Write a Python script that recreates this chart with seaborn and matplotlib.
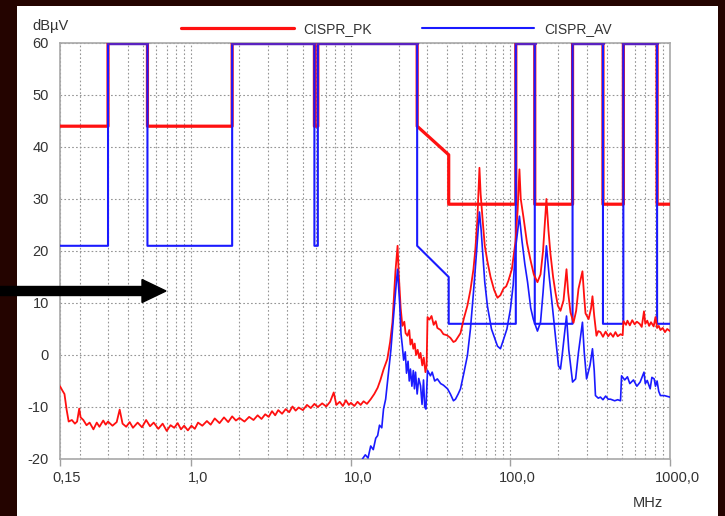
import numpy as np
import pandas as pd
import matplotlib
matplotlib.use("Agg")
import matplotlib.pyplot as plt
import matplotlib.transforms as mtransforms
from matplotlib.patches import Rectangle, FancyArrow
from matplotlib.ticker import FixedLocator, LogLocator, NullFormatter
import seaborn as sns

# limit lines (CISPR 25), one entry per segment: start/end frequency and level
seg_start = [0.15, 0.30, 0.53, 1.8, 5.9, 6.2, 26, 41, 108, 142, 245, 380, 510, 830]
seg_end = [0.30, 0.53, 1.8, 5.9, 6.2, 26, 41, 108, 142, 245, 380, 510, 830, 1000]
pk_lim_start = [44, 60, 44, 60, 44, 60, 44, 29, 60, 29, 60, 29, 60, 29]
pk_lim_end = [44, 60, 44, 60, 44, 60, 38.5, 29, 60, 29, 60, 29, 60, 29]
av_lim_start = [21, 60, 21, 60, 21, 60, 21, 6, 60, 6, 60, 6, 60, 6]
av_lim_end = [21, 60, 21, 60, 21, 60, 15, 6, 60, 6, 60, 6, 60, 6]

# measured peak trace (MHz, dBuV)
pk_freq = [0.150, 0.155, 0.160, 0.165, 0.170, 0.178, 0.186, 0.192, 0.198, 0.202,
           0.210, 0.220, 0.230, 0.243, 0.255, 0.265, 0.28, 0.29, 0.30, 0.32,
           0.34, 0.355, 0.37, 0.39, 0.41, 0.43, 0.46, 0.49, 0.52, 0.55,
           0.58, 0.62, 0.66, 0.70, 0.74, 0.78, 0.82, 0.86, 0.90, 0.95,
           1.0, 1.05, 1.1, 1.17, 1.25, 1.32, 1.4, 1.5, 1.6, 1.7,
           1.8, 1.9, 2.0, 2.15, 2.3, 2.45, 2.6, 2.75, 2.9, 3.05,
           3.2, 3.35, 3.5, 3.7, 3.9, 4.1, 4.3, 4.5, 4.7, 5.0,
           5.3, 5.6, 5.9, 6.2, 6.6, 7.0, 7.4, 7.8, 8.1, 8.5,
           8.9, 9.3, 9.7, 10.0, 10.5, 11.0, 11.5, 12.0, 12.6, 13.3,
           14.0, 14.7, 15.3, 16.0, 16.9, 17.6, 18.2, 19.0, 19.6, 19.9,
           20.5, 21.0, 21.6, 22.0, 22.6, 23.2, 23.6, 24.1, 24.6, 25.1,
           25.6, 26.2, 26.8, 27.3, 28.0, 28.6, 29.3, 29.8, 30.2, 31.0,
           32.0, 33.0, 34.0, 34.8, 36.5, 38.0, 40.0, 42.0, 43.9, 45.2,
           47.0, 48.6, 51.0, 53.7, 56.1, 58.6, 60.3, 62.0, 63.9, 65.0,
           66.7, 69.0, 71.7, 75.0, 79.0, 82.9, 86.5, 90.5, 94.0, 97.1,
           102.0, 107.5, 111.0, 113.8, 116.0, 120.6, 127.0, 133.4, 140.0, 147.6,
           154.3, 160.0, 168.0, 173.0, 178.0, 185.0, 191.5, 198.0, 205.8, 215.0,
           224.5, 230.0, 237.8, 248.4, 258.0, 266.8, 282.6, 290.0, 295.4, 309.0,
           320.0, 326.6, 335.0, 346.0, 355.0, 366.4, 380.0, 395.0, 410.0, 423.6,
           440.0, 455.0, 470.0, 489.6, 505.0, 510.5, 530.0, 541.0, 560.0, 580.0,
           600.0, 620.0, 645.0, 665.0, 687.0, 700.0, 720.0, 740.0, 760.0, 790.0,
           811.0, 830.0, 850.0, 871.0, 900.0, 930.0, 960.0, 1000.0]
pk_level = [-6.0, -6.8, -7.5, -10.5, -12.8, -12.5, -13.2, -12.8, -10.3, -12.0,
            -12.5, -13.5, -13.0, -14.3, -13.0, -13.8, -12.6, -13.4, -12.8, -13.6,
            -12.9, -10.5, -13.2, -13.8, -12.9, -14.0, -13.0, -13.9, -12.5, -13.7,
            -13.0, -14.2, -13.2, -14.6, -13.5, -14.0, -13.1, -14.3, -13.6, -14.5,
            -13.6, -14.2, -13.0, -13.6, -12.7, -13.4, -12.2, -13.1, -12.0, -12.9,
            -11.8, -12.6, -12.1, -12.8, -11.9, -12.5, -11.6, -12.3, -11.4, -11.9,
            -10.8, -11.6, -10.6, -11.3, -10.4, -11.0, -9.9, -10.7, -10.1, -10.6,
            -9.6, -10.2, -9.4, -10.0, -9.3, -9.9, -9.0, -7.2, -9.6, -9.0,
            -9.8, -8.7, -9.6, -9.2, -9.8, -9.0, -9.6, -8.9, -9.4, -8.5,
            -7.5, -6.3, -4.8, -2.8, -0.8, 2.5, 6.3, 16.0, 21.0, 16.0,
            9.0, 5.6, 6.4, 4.2, 3.7, 4.8, 2.0, 3.0, 1.2, 2.2,
            0.0, 1.0, -0.6, 0.4, -2.0, -0.5, -3.3, -2.0, 7.3, 6.8,
            7.5, 5.8, 6.5, 5.2, 4.8, 4.0, 3.8, 3.3, 2.5, 2.7,
            3.5, 4.2, 7.0, 9.5, 12.5, 16.5, 20.5, 26.0, 36.0, 31.0,
            26.5, 21.0, 18.0, 15.0, 12.5, 11.0, 11.5, 12.8, 13.2, 14.3,
            16.5, 21.8, 28.0, 35.7, 30.0, 26.5, 21.5, 18.3, 15.5, 14.0,
            15.5, 20.0, 30.0, 24.0, 19.5, 15.0, 12.0, 9.5, 8.5, 10.5,
            16.5, 12.0, 8.2, 6.2, 8.5, 12.7, 16.1, 11.0, 8.0, 6.9,
            9.0, 11.3, 7.5, 3.7, 4.6, 4.4, 3.5, 4.5, 3.6, 4.2,
            3.5, 4.4, 3.6, 4.0, 3.8, 6.5, 5.8, 6.6, 5.7, 6.7,
            5.9, 6.4, 6.0, 5.4, 8.4, 6.0, 6.6, 5.6, 6.3, 5.5,
            7.3, 5.2, 5.6, 4.8, 5.2, 4.4, 5.0, 4.6]

# measured average trace (MHz, dBuV)
av_freq = [11.0, 11.8, 12.3, 12.8, 13.3, 13.8, 14.3, 14.7, 15.1, 15.6,
           16.0, 16.5, 17.2, 17.8, 18.5, 19.2, 19.6, 19.9, 20.2, 20.6,
           21.0, 21.4, 21.9, 22.3, 22.8, 23.2, 23.6, 24.1, 24.6, 25.0,
           25.4, 26.0, 26.6, 27.3, 27.9, 28.5, 29.0, 29.5, 30.2, 30.6,
           31.5, 32.3, 33.5, 34.8, 36.5, 38.0, 40.3, 42.0, 43.9, 45.2,
           47.0, 48.6, 51.0, 53.7, 56.1, 58.6, 61.0, 63.9, 65.5, 66.7,
           69.0, 71.7, 76.0, 82.9, 86.5, 90.5, 95.0, 99.9, 104.0, 107.5,
           113.8, 118.0, 123.0, 128.0, 134.0, 139.0, 147.6, 154.3, 160.0, 168.0,
           175.0, 183.0, 191.5, 200.0, 205.8, 211.0, 218.0, 224.5, 232.0, 245.0,
           256.0, 266.8, 282.6, 290.0, 300.0, 315.0, 326.6, 335.0, 341.0, 355.0,
           366.4, 380.0, 395.0, 410.0, 423.6, 450.0, 470.0, 489.6, 497.0, 520.0,
           541.0, 560.0, 590.0, 620.0, 650.0, 687.0, 700.0, 720.0, 751.0, 770.0,
           796.0, 811.0, 830.0, 850.0, 871.0, 920.0, 1000.0]
av_level = [-22.0, -20.0, -19.2, -19.8, -17.5, -18.2, -16.0, -15.5, -13.5, -14.0,
            -10.4, -8.5, -3.3, 1.0, 7.5, 13.5, 16.5, 13.0, 10.0, 4.0,
            1.7, -1.0, 0.6, -3.5, -1.2, -5.0, -2.7, -6.0, -3.0, -6.5,
            -3.3, -7.5, -4.5, -5.9, -9.5, -4.8, -10.0, -10.4, -3.0, -3.3,
            -4.0, -3.3, -5.0, -4.6, -5.5, -5.8, -6.5, -7.5, -8.8, -8.5,
            -7.5, -6.5, -3.5, -0.1, 5.0, 12.0, 19.0, 27.5, 24.0, 20.4,
            14.0, 9.4, 5.0, 1.7, 1.2, 3.0, 5.0, 8.8, 13.5, 20.4,
            26.7, 22.0, 17.5, 14.0, 9.0, 6.9, 4.6, 6.3, 12.0, 21.0,
            15.0, 9.4, 3.5, -2.1, -2.7, 0.0, 4.0, 7.5, 1.0, -5.2,
            -4.6, 0.5, 6.3, 0.5, -4.6, -2.0, 1.2, -3.0, -7.8, -8.3,
            -8.1, -8.6, -7.9, -8.5, -8.5, -8.8, -8.6, -8.8, -4.0, -4.8,
            -4.2, -5.5, -4.8, -6.0, -5.2, -3.3, -5.5, -4.9, -6.5, -4.3,
            -4.6, -6.0, -5.0, -7.0, -7.8, -7.8, -8.1]

y_ticks = [-20, -10, 0, 10, 20, 30, 40, 50, 60]
x_ticks = [0.15, 1.0, 10.0, 100.0, 1000.0]
x_tick_labels = ["0,15", "1,0", "10,0", "100,0", "1000,0"]

RED = "#ff1010"
BLUE = "#1a1aff"
PURPLE = "#5a22c0"
TXT = "#333333"


def step_vertices(starts, ends, lo, hi):
    xs, ys = [], []
    for s, e, a, b in zip(starts, ends, lo, hi):
        xs += [s, e]
        ys += [a, b]
    return pd.DataFrame({"f": xs, "lvl": ys})


sns.set_theme(style="white")
plt.rcParams["font.family"] = ["Liberation Sans", "DejaVu Sans"]

W, H = 725, 516
fig = plt.figure(figsize=(W / 100, H / 100), dpi=100)
fig.patch.set_facecolor("#240400")
# white panel of the screenshot
fig.add_artist(Rectangle((17 / W, 0), (718 - 17) / W, (H - 6) / H,
                         transform=fig.transFigure, facecolor="white",
                         edgecolor="none", zorder=0))

ax = fig.add_axes([60 / W, (H - 459) / H, (670 - 60) / W, (459 - 43) / H])
ax.set_facecolor("white")
ax.set_xscale("log")

pk_lim = step_vertices(seg_start, seg_end, pk_lim_start, pk_lim_end)
av_lim = step_vertices(seg_start, seg_end, av_lim_start, av_lim_end)

sns.lineplot(data=pk_lim, x="f", y="lvl", ax=ax, color=RED, lw=2.3,
             sort=False, estimator=None, legend=False, zorder=3)
sns.lineplot(data=av_lim, x="f", y="lvl", ax=ax, color=BLUE, lw=1.5,
             sort=False, estimator=None, legend=False, zorder=4)
# where both limits coincide the two lines show as purple
for s, e, a, b, c, d in zip(seg_start, seg_end, pk_lim_start, pk_lim_end,
                            av_lim_start, av_lim_end):
    if a == c and b == d:
        sns.lineplot(x=[s, e], y=[a, b], ax=ax, color=PURPLE, lw=2.5,
                     sort=False, estimator=None, legend=False, zorder=5)

sns.lineplot(x=pk_freq, y=pk_level, ax=ax, color=RED, lw=1.3,
             sort=False, estimator=None, legend=False, zorder=6)
sns.lineplot(x=av_freq, y=av_level, ax=ax, color=BLUE, lw=1.2,
             sort=False, estimator=None, legend=False, zorder=6)

ax.set_xlim(0.15, 1000)
ax.set_ylim(-20, 60)
ax.set_xlabel("")
ax.set_ylabel("")

ax.xaxis.set_major_locator(FixedLocator(x_ticks))
ax.set_xticklabels(x_tick_labels)
ax.xaxis.set_minor_locator(LogLocator(base=10, subs=np.arange(2, 10)))
ax.xaxis.set_minor_formatter(NullFormatter())
ax.set_yticks(y_ticks)
ax.set_yticklabels([str(v) for v in y_ticks])

ax.grid(True, which="both", axis="x", ls=(0, (1.5, 2)), color="#959595", lw=0.8)
ax.grid(True, which="major", axis="y", ls=(0, (1.5, 2)), color="#959595", lw=0.8)
ax.set_axisbelow(True)

ax.tick_params(axis="x", which="major", length=5, width=1, color="#a0a0a0",
               direction="out", bottom=True, pad=4, labelsize=10.5, labelcolor=TXT)
ax.tick_params(axis="x", which="minor", length=0)
ax.tick_params(axis="y", length=0, pad=8, labelsize=10.5, labelcolor=TXT)
for lab in ax.get_xticklabels():
    lab.set_transform(lab.get_transform() +
                      mtransforms.ScaledTranslation(7 / 100, 0, fig.dpi_scale_trans))

for sp in ax.spines.values():
    sp.set_visible(True)
    sp.set_color("#a8a8a8")
    sp.set_linewidth(1.2)

fig.text(32 / W, 1 - 26 / H, "dBµV", ha="left", va="center", fontsize=10.5, color=TXT)
fig.text(633 / W, 1 - 503 / H, "MHz", ha="left", va="center", fontsize=10.5, color=TXT)

handles = [ax.lines[0], ax.lines[1]]
leg = fig.legend(handles, ["CISPR_PK", "CISPR_AV"], loc="center left",
                 bbox_to_anchor=(181 / W, 1 - 29 / H), ncol=2, frameon=False,
                 handlelength=8.1, handletextpad=0.7, columnspacing=3.6,
                 borderpad=0, borderaxespad=0, fontsize=10, labelcolor=TXT)
for lh, c, w in zip(leg.get_lines(), [RED, BLUE], [2.3, 1.5]):
    lh.set_color(c)
    lh.set_linewidth(w)

# black pointer arrow from the left edge
fig.add_artist(FancyArrow(0, (H - 291) / 100, 1.66, 0, width=0.09,
                          head_width=0.23, head_length=0.24,
                          length_includes_head=True, color="black",
                          transform=fig.dpi_scale_trans, zorder=10))

fig.savefig("out.png", dpi=100, facecolor=fig.get_facecolor())
